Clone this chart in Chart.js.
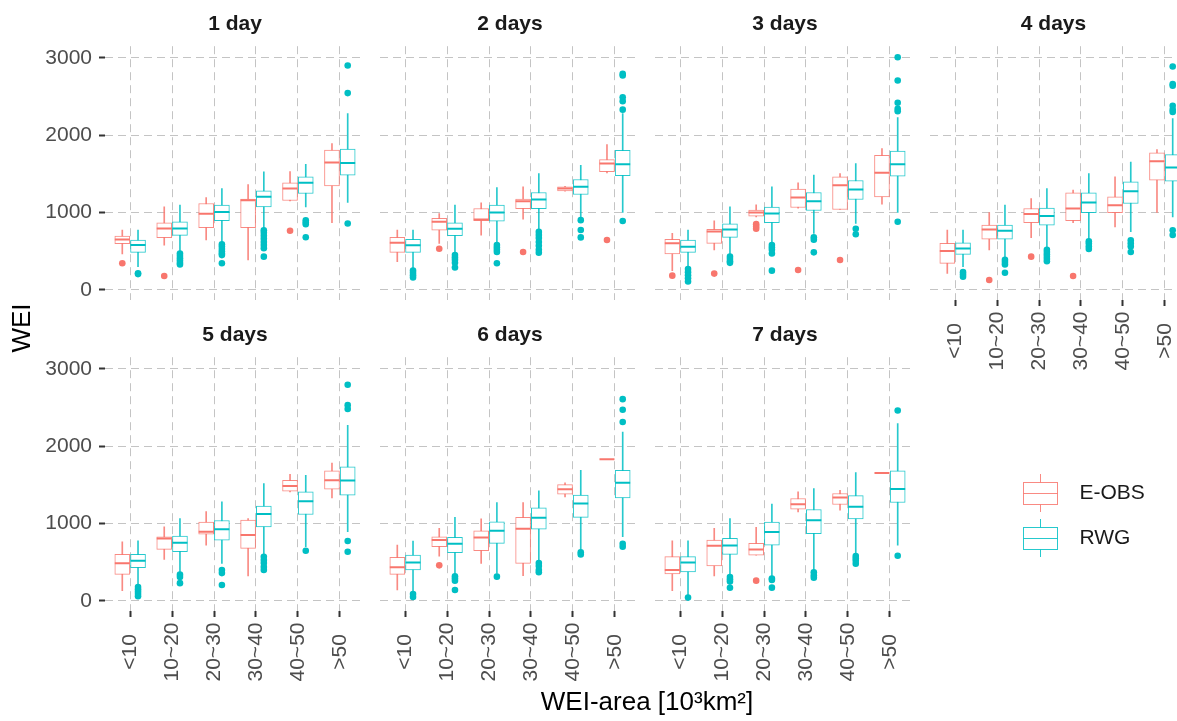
<!DOCTYPE html>
<html>
<head>
<meta charset="utf-8">
<title>WEI boxplots</title>
<script src="https://cdn.jsdelivr.net/npm/chart.js@4.4.1/dist/chart.umd.min.js"></script>
<style>
  html, body { margin: 0; padding: 0; background: #fff; overflow: hidden; }
  body { position: relative; width: 1177px; height: 721px; }
  .panel { position: absolute; }
  canvas { display: block; }
</style>
</head>
<body>
<div class="panel" style="left:0;top:0"><canvas id="frame" width="1177" height="721"></canvas></div>
<div id="panels"></div>
<script>
// facets and categories
const panelTitles = ["1 day", "2 days", "3 days", "4 days", "5 days", "6 days", "7 days"];
const categories = ["<10", "10~20", "20~30", "30~40", "40~50", ">50"];
const yTicks = [0, 1000, 2000, 3000];

// E-OBS boxplot stats, one row per panel, one value per category
const eobsLow = [
  [464, 580, 645, 387, 1150, 868],
  [365, 602, 709, 915, 1275, 1513],
  [249, 516, 945, 1057, 1040, 1109],
  [215, 516, 675, 868, 816, 1001],
  [133, 537, 722, 322, 1410, 1332],
  [142, 580, 486, 327, 1345, 1831],
  [133, 322, 593, 1152, 1173, 1654]
];
const eobsQ1 = [
  [597, 675, 804, 804, 1156, 1345],
  [486, 773, 894, 1049, 1281, 1530],
  [464, 602, 954, 1066, 1040, 1203],
  [344, 657, 868, 894, 997, 1418],
  [344, 666, 864, 679, 1418, 1444],
  [344, 700, 649, 486, 1379, 1831],
  [348, 451, 593, 1186, 1246, 1654]
];
const eobsMedian = [
  [653, 795, 984, 1160, 1311, 1646],
  [610, 881, 911, 1147, 1311, 1633],
  [602, 756, 1001, 1195, 1354, 1513],
  [503, 782, 980, 1053, 1096, 1663],
  [486, 808, 894, 851, 1487, 1560],
  [434, 786, 821, 933, 1444, 1831],
  [400, 713, 666, 1251, 1337, 1654]
];
const eobsQ3 = [
  [696, 868, 1117, 1173, 1384, 1809],
  [679, 924, 1053, 1173, 1332, 1685],
  [653, 782, 1031, 1302, 1461, 1740],
  [602, 838, 1053, 1255, 1203, 1771],
  [602, 829, 1018, 1044, 1560, 1680],
  [563, 829, 907, 1079, 1504, 1831],
  [572, 786, 743, 1324, 1388, 1654]
];
const eobsHigh = [
  [773, 1074, 1195, 1362, 1530, 1891],
  [773, 988, 1126, 1332, 1340, 1878],
  [731, 894, 1100, 1384, 1504, 1826],
  [773, 1001, 1182, 1289, 1461, 1813],
  [765, 958, 1156, 1066, 1637, 1783],
  [722, 937, 1061, 1272, 1526, 1831],
  [778, 937, 950, 1410, 1431, 1654]
];
const eobsOutliers = [
  [[344], [180], [], [], [765], []],
  [[], [533], [], [490], [], [645]],
  [[185], [211], [850, 820, 790], [258], [387], []],
  [[], [129], [430], [180], [], []],
  [[], [], [], [], [], []],
  [[], [460], [], [], [], []],
  [[], [], [262], [], [], []]
];

// RWG boxplot stats
const rwgLow = [
  [300, 494, 602, 795, 1074, 1130],
  [280, 473, 602, 774, 945, 1001],
  [300, 451, 602, 731, 859, 1001],
  [300, 430, 537, 645, 752, 945],
  [206, 378, 486, 593, 700, 894],
  [120, 335, 357, 529, 658, 829],
  [77, 335, 314, 400, 615, 722]
];
const rwgQ1 = [
  [486, 705, 894, 1074, 1246, 1483],
  [486, 700, 890, 1049, 1233, 1478],
  [486, 679, 868, 1027, 1169, 1470],
  [460, 657, 838, 997, 1117, 1405],
  [430, 636, 786, 958, 1117, 1367],
  [400, 623, 743, 928, 1079, 1332],
  [374, 602, 722, 868, 1061, 1272]
];
const rwgMedian = [
  [580, 795, 1006, 1203, 1384, 1642],
  [576, 791, 1001, 1169, 1332, 1624],
  [559, 782, 988, 1147, 1298, 1624],
  [537, 765, 954, 1130, 1276, 1581],
  [520, 752, 928, 1122, 1289, 1556],
  [498, 739, 907, 1074, 1259, 1526],
  [498, 718, 890, 1044, 1216, 1448]
];
const rwgQ3 = [
  [645, 881, 1096, 1281, 1461, 1822],
  [653, 868, 1096, 1259, 1427, 1805],
  [645, 855, 1070, 1259, 1414, 1796],
  [610, 838, 1057, 1255, 1397, 1749],
  [602, 838, 1040, 1225, 1410, 1732],
  [593, 821, 1023, 1203, 1367, 1689],
  [572, 808, 1018, 1182, 1362, 1680]
];
const rwgHigh = [
  [773, 1096, 1311, 1526, 1624, 2278],
  [773, 1096, 1324, 1504, 1611, 2278],
  [773, 1074, 1332, 1483, 1633, 2226],
  [773, 1096, 1311, 1504, 1654, 2213],
  [778, 1066, 1281, 1517, 1624, 2269],
  [774, 1079, 1272, 1422, 1689, 2183],
  [778, 1066, 1251, 1453, 1659, 2291]
];
const rwgOutliers = [
  [[215, 205], [470, 440, 410, 380, 350, 330], [590, 560, 530, 500, 470, 450, 344], [770, 740, 700, 660, 620, 580, 540, 430], [900, 870, 850, 680], [2901, 2544, 859]],
  [[250, 220, 190, 160], [450, 420, 390, 350, 290], [580, 550, 520, 490, 344], [750, 710, 670, 620, 570, 520, 480], [902, 774, 679], [2793, 2772, 2490, 2440, 2330, 890]],
  [[270, 230, 190, 150, 110], [430, 400, 370, 350], [580, 550, 520, 470, 249], [680, 650, 486], [790, 720], [3008, 2707, 2419, 2340, 2310, 881]],
  [[230, 200, 170], [390, 360, 330, 223], [520, 490, 460, 430, 400, 370], [630, 600, 560, 530], [640, 600, 560, 490], [2888, 2660, 2640, 2380, 2330, 2300, 770, 710]],
  [[180, 150, 120, 90, 60], [340, 310, 230], [400, 360, 206], [570, 530, 490, 440, 400], [649], [2793, 2530, 2480, 774, 636]],
  [[90, 50], [320, 290, 260, 142], [314], [490, 450, 400, 370], [630, 600], [2608, 2471, 2312, 740, 700]],
  [[43], [310, 280, 250, 170], [290, 270, 172], [370, 330, 300], [580, 550, 520, 480], [2462, 584]]
];

const FONT = "'Liberation Sans', Arial, Helvetica, sans-serif";
Chart.defaults.font.family = FONT;

const eobsColor = "#F8766D", rwgColor = "#00BFC4";
const eobsLine = "rgba(248,118,109,0.85)", rwgLine = "rgba(0,191,196,0.85)";
const gridColor = "#c4c4c4";
const dodge = 0.1875;

const pageWidth = 1177;
const plotLeft = [105, 380, 655, 930];
const plotWidth = 260;
const unitPx = plotWidth / 6.2;

// rotated category labels, centred like ggplot's
const xLabels = {
  id: "xLabels",
  afterDraw(chart, args, opts) {
    if (!opts.show) return;
    const ctx = chart.ctx, xs = chart.scales.x;
    ctx.save();
    ctx.font = "21px " + FONT;
    ctx.fillStyle = "#4d4d4d";
    ctx.textAlign = "center";
    ctx.textBaseline = "middle";
    categories.forEach((c, i) => {
      ctx.save();
      ctx.translate(xs.getPixelForValue(i), chart.chartArea.bottom + 41);
      ctx.rotate(-Math.PI / 2);
      ctx.fillText(c, 0, 0);
      ctx.restore();
    });
    ctx.restore();
  }
};

function seriesSets(k, off, color, line, low, q1, med, q3, high, out) {
  return {
    med: {
      type: "scatter",
      data: med[k].map((v, i) => ({x: i + off, y: v})),
      pointStyle: "line", pointRadius: 7.5, pointHoverRadius: 7.5,
      pointBorderColor: color, pointBackgroundColor: color, pointBorderWidth: 2
    },
    box: {
      type: "bar",
      data: q1[k].map((v, i) => ({x: i + off, y: [v, q3[k][i]]})),
      grouped: false, barThickness: 15,
      backgroundColor: "#ffffff", borderColor: line, borderWidth: 1, borderSkipped: false
    },
    whisk: {
      type: "bar",
      data: low[k].map((v, i) => ({x: i + off, y: [v, high[k][i]]})),
      grouped: false, barThickness: 1,
      backgroundColor: line, borderWidth: 0
    },
    out: {
      type: "scatter",
      data: out[k].flatMap((arr, i) => arr.map(v => ({x: i + off, y: v}))),
      pointRadius: 3.3, pointHoverRadius: 3.3,
      pointBackgroundColor: color, pointBorderWidth: 0
    }
  };
}

const holder = document.getElementById("panels");
for (let k = 0; k < 7; k++) {
  const row = k < 4 ? 0 : 1, col = k < 4 ? k : k - 4;
  const showY = col === 0, showX = row === 1 || col === 3;
  // the right-most panel is cut by the page edge, as in the source figure
  const visW = Math.min(plotWidth, pageWidth - plotLeft[col]);
  const xMax = -0.6 + visW / unitPx;
  const w = showY ? plotLeft[0] + visW : visW;
  const h = 300 + (showX ? 80 : 0);
  const div = document.createElement("div");
  div.className = "panel";
  div.style.left = (showY ? 0 : plotLeft[col]) + "px";
  div.style.top = (row === 0 ? 0 : 311) + "px";
  const cv = document.createElement("canvas");
  cv.width = w; cv.height = h;
  div.appendChild(cv);
  holder.appendChild(div);

  const e = seriesSets(k, -dodge, eobsColor, eobsLine, eobsLow, eobsQ1, eobsMedian, eobsQ3, eobsHigh, eobsOutliers);
  const r = seriesSets(k, dodge, rwgColor, rwgLine, rwgLow, rwgQ1, rwgMedian, rwgQ3, rwgHigh, rwgOutliers);

  new Chart(cv, {
    type: "bar",
    data: {datasets: [e.med, r.med, e.box, r.box, e.whisk, r.whisk, e.out, r.out]},
    options: {
      responsive: false, animation: false,
      devicePixelRatio: 1, events: [],
      layout: {padding: 0, autoPadding: false},
      plugins: {
        legend: {display: false},
        tooltip: {enabled: false},
        title: {
          display: true, text: panelTitles[k], fullSize: false,
          color: "#1a1a1a", font: {size: 21, weight: "bold"},
          padding: {top: 12, bottom: 9}
        },
        xLabels: {show: showX}
      },
      scales: {
        x: {
          type: "linear", min: -0.6, max: xMax, offset: false,
          afterBuildTicks: s => { s.ticks = categories.map((c, i) => ({value: i})); },
          ticks: {display: false},
          grid: {color: gridColor, offset: false, drawTicks: showX, tickLength: 6, tickColor: "#333333", tickWidth: 2},
          border: {display: false, dash: [8, 5]},
          afterFit: s => { s.height = showX ? 80 : 0; s.paddingLeft = 0; s.paddingRight = 0; }
        },
        y: {
          type: "linear", min: -130, max: 3150,
          afterBuildTicks: s => { s.ticks = yTicks.map(v => ({value: v})); },
          ticks: {display: showY, padding: 7, color: "#4d4d4d", font: {size: 21}, callback: v => String(v)},
          grid: {color: gridColor, drawTicks: showY, tickLength: 6, tickColor: "#333333", tickWidth: 2},
          border: {display: false, dash: [8, 5]},
          afterFit: s => { s.width = showY ? plotLeft[0] : 0; s.paddingTop = 0; s.paddingBottom = 0; }
        }
      }
    },
    plugins: [xLabels]
  });
}

// legend keys drawn as little boxplots
function keyGlyph(color) {
  const c = document.createElement("canvas");
  c.width = 35; c.height = 38;
  const g = c.getContext("2d");
  g.strokeStyle = color; g.lineWidth = 1;
  g.strokeRect(0.5, 8.5, 34, 22);
  g.beginPath();
  g.moveTo(17.5, 0); g.lineTo(17.5, 8.5);
  g.moveTo(17.5, 30.5); g.lineTo(17.5, 38);
  g.moveTo(0.5, 19.5); g.lineTo(34.5, 19.5);
  g.stroke();
  return c;
}
const glyphs = [keyGlyph(eobsLine), keyGlyph(rwgLine)];

const axisTitles = {
  id: "axisTitles",
  afterDraw(chart) {
    const ctx = chart.ctx;
    ctx.save();
    ctx.fillStyle = "#000000";
    ctx.font = "26px " + FONT;
    ctx.textAlign = "center";
    ctx.textBaseline = "middle";
    ctx.fillText("WEI-area [10\u00B3km\u00B2]", 647, 703);
    ctx.translate(23, 328);
    ctx.rotate(-Math.PI / 2);
    ctx.fillText("WEI", 0, 0);
    ctx.restore();
  }
};

new Chart(document.getElementById("frame"), {
  type: "bar",
  data: {labels: [], datasets: [
    {label: "E-OBS", data: [], borderColor: eobsColor},
    {label: "RWG", data: [], borderColor: rwgColor}
  ]},
  options: {
    responsive: false, animation: false,
    devicePixelRatio: 1, events: [],
    layout: {padding: {left: 988, top: 458.5}, autoPadding: false},
    scales: {x: {display: false}, y: {display: false}},
    plugins: {
      tooltip: {enabled: false},
      legend: {
        display: true, position: "left", align: "start", maxWidth: 185,
        labels: {
          usePointStyle: true, pointStyleWidth: 57, padding: 24,
          font: {size: 21}, color: "#1a1a1a",
          generateLabels: chart => chart.data.datasets.map((ds, i) => ({
            text: ds.label, pointStyle: glyphs[i], fontColor: "#1a1a1a",
            fillStyle: "rgba(0,0,0,0)", strokeStyle: "rgba(0,0,0,0)", lineWidth: 0,
            hidden: false, datasetIndex: i
          }))
        }
      }
    }
  },
  plugins: [axisTitles]
});
</script>
</body>
</html>
